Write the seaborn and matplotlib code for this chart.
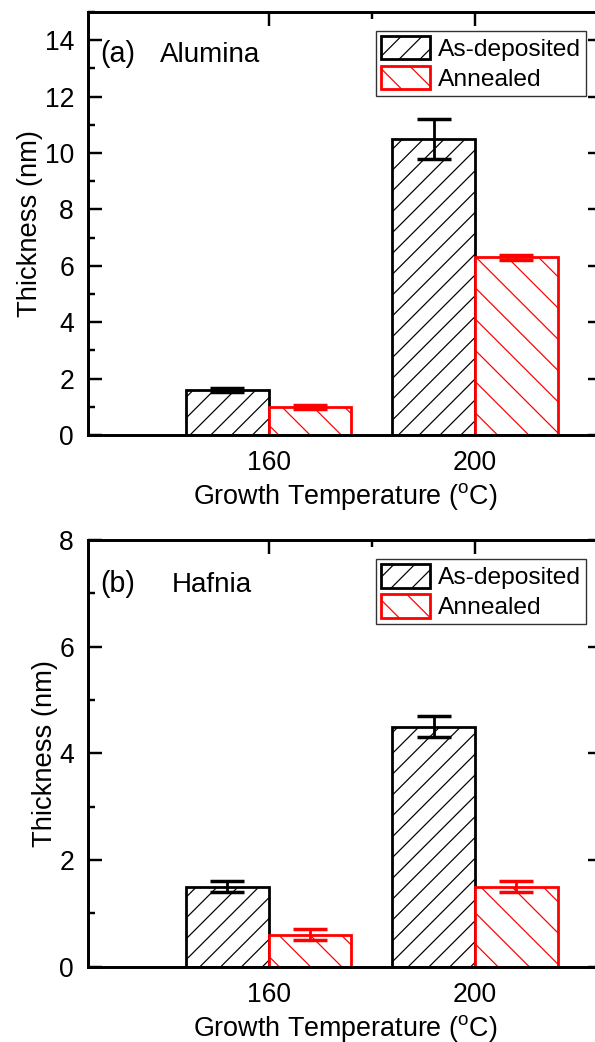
import matplotlib
matplotlib.use("Agg")
import matplotlib.pyplot as plt
import matplotlib.hatch as mhatch
import pandas as pd
import seaborn as sns
from matplotlib.patches import Patch
from matplotlib.ticker import MultipleLocator, FixedLocator

# Growth temperatures (categories on the x axis) and sample conditions
temperatures = ["160", "200"]
conditions = ["As-deposited", "Annealed"]

# Alumina film thickness (nm)
alumina_as_dep = [1.6, 10.5]
alumina_as_dep_err = [0.08, 0.7]
alumina_annealed = [1.0, 6.3]
alumina_annealed_err = [0.08, 0.08]

# Hafnia film thickness (nm)
hafnia_as_dep = [1.5, 4.5]
hafnia_as_dep_err = [0.1, 0.2]
hafnia_annealed = [0.6, 1.5]
hafnia_annealed_err = [0.1, 0.1]

panel_tags = ["(a)", "(b)"]
panel_names = ["Alumina", "Hafnia"]
y_max = [15, 8]

colors = ["black", "#ff0000"]
hatches = ["//", "\\"]


class WideSouthEastHatch(mhatch.SouthEastHatch):
    """Back-slash hatch with a somewhat wider line spacing."""

    def __init__(self, hatch, density):
        super().__init__(hatch, density)
        n = hatch.count("\\") + hatch.count("x") + hatch.count("X")
        self.num_lines = int(n * density * 4 / 3)
        self.num_vertices = (self.num_lines + 1) * 2 if self.num_lines else 0


mhatch._hatch_types = [WideSouthEastHatch if t is mhatch.SouthEastHatch else t
                       for t in mhatch._hatch_types]

sns.set_style("ticks")
plt.rcParams["font.family"] = ["Liberation Sans", "DejaVu Sans"]
plt.rcParams["mathtext.fontset"] = "custom"
plt.rcParams["mathtext.rm"] = "Liberation Sans"
plt.rcParams["hatch.linewidth"] = 0.7
for key in ["text.color", "axes.labelcolor", "xtick.color", "ytick.color",
            "axes.edgecolor"]:
    plt.rcParams[key] = "black"

DPI = 125
fig = plt.figure(figsize=(595 / DPI, 1042 / DPI), dpi=DPI)
ax_a = fig.add_axes([0.1479, 0.5825, 0.8639, 0.4060])
ax_b = fig.add_axes([0.1479, 0.0722, 0.8639, 0.4095])


def draw_panel(ax, as_dep, as_dep_err, ann, ann_err, tag, name, name_x, text_y,
               ymax, ystep):
    df = pd.DataFrame({
        "Temperature": temperatures * 2,
        "Condition": [conditions[0]] * len(temperatures) + [conditions[1]] * len(temperatures),
        "Thickness": as_dep + ann,
    })
    sns.barplot(data=df, x="Temperature", y="Thickness", hue="Condition",
                order=temperatures, hue_order=conditions,
                palette={c: "white" for c in conditions}, saturation=1,
                errorbar=None, width=0.8, legend=False, ax=ax)

    for cont, color, hatch, vals, errs in zip(ax.containers, colors, hatches,
                                              [as_dep, ann], [as_dep_err, ann_err]):
        centers = []
        for bar in cont:
            bar.set_facecolor("white")
            bar.set_edgecolor(color)
            bar.set_hatch(hatch)
            bar.set_linewidth(1.6)
            centers.append(bar.get_x() + bar.get_width() / 2)
        ax.errorbar(centers, vals, yerr=errs, fmt="none", ecolor=color,
                    elinewidth=1.6, capsize=10, capthick=2.0, zorder=4)

    ax.set_xlim(-0.875, 1.615)
    ax.set_ylim(0, ymax)
    ax.yaxis.set_major_locator(MultipleLocator(ystep))
    ax.yaxis.set_minor_locator(MultipleLocator(ystep / 2))
    ax.xaxis.set_minor_locator(FixedLocator([0.5]))

    ax.tick_params(which="both", direction="in", top=True, right=True,
                   labelsize=15.3, width=1.4, color="black", labelcolor="black")
    ax.tick_params(which="major", length=8)
    ax.tick_params(which="minor", length=4, bottom=False)
    ax.tick_params(axis="x", pad=8.5)
    ax.tick_params(axis="y", pad=8)
    for sp in ax.spines.values():
        sp.set_linewidth(1.7)
        sp.set_color("black")

    ax.set_xlabel("Growth Temperature ($^{\\mathrm{o}}$C)", fontsize=15.5,
                  labelpad=3, color="black")
    ax.set_ylabel("Thickness (nm)", fontsize=15.8, labelpad=1, color="black")
    ax.text(0.023, text_y, tag, transform=ax.transAxes, ha="left",
            va="baseline", fontsize=16.5, color="black")
    ax.text(name_x, text_y, name, transform=ax.transAxes, ha="left",
            va="baseline", fontsize=16, color="black")

    handles = [Patch(facecolor="white", edgecolor=c, hatch=h, linewidth=1.6, label=l)
               for c, h, l in zip(colors, hatches, conditions)]
    leg = ax.legend(handles=handles, loc="upper right", bbox_to_anchor=(0.969, 0.955),
                    fontsize=14.1, frameon=True, fancybox=False, borderpad=0.2,
                    labelspacing=0.2, handlelength=2.0, handleheight=1.1,
                    handletextpad=0.35, borderaxespad=0)
    leg.get_frame().set_edgecolor("black")
    leg.get_frame().set_linewidth(0.8)
    for t in leg.get_texts():
        t.set_color("black")


draw_panel(ax_a, alumina_as_dep, alumina_as_dep_err, alumina_annealed,
           alumina_annealed_err, panel_tags[0], panel_names[0], 0.140, 0.882,
           y_max[0], 2)
draw_panel(ax_b, hafnia_as_dep, hafnia_as_dep_err, hafnia_annealed,
           hafnia_annealed_err, panel_tags[1], panel_names[1], 0.163, 0.878,
           y_max[1], 2)

fig.savefig("out.png", dpi=DPI)
